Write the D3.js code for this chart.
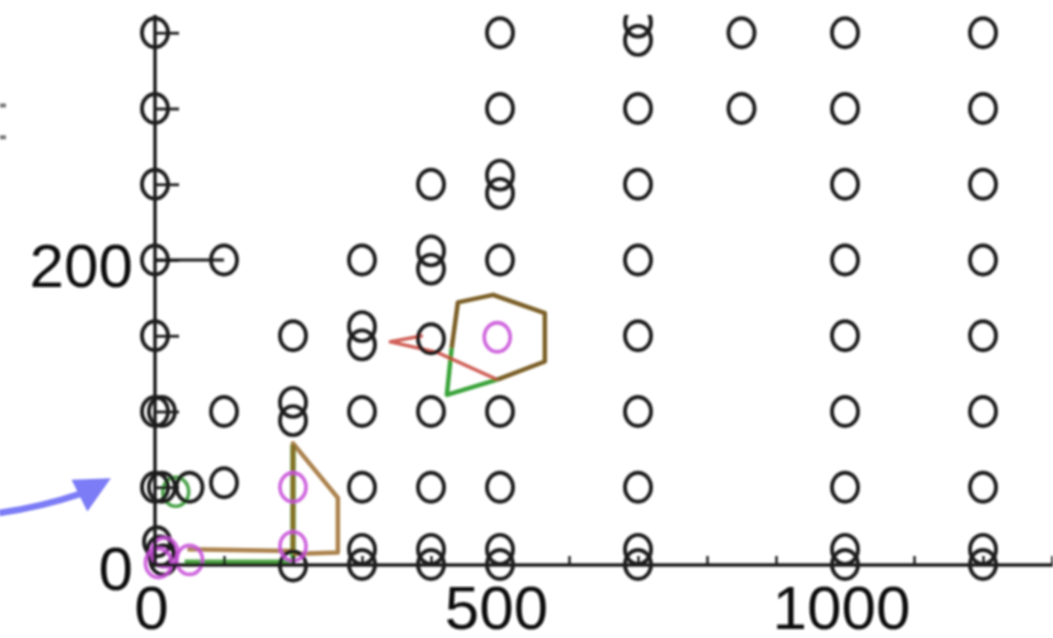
<!DOCTYPE html>
<html>
<head>
<meta charset="utf-8">
<script src="https://cdn.jsdelivr.net/npm/d3@7"></script>
<style>
  body { margin: 0; background: #fff; }
  svg { display: block; }
</style>
</head>
<body>
<script>
var width = 1053, height = 638;

// tick values
var xTickLabels = [0, 500, 1000];
var yTickLabels = [0, 200];
var xMinorTicks = [100, 200, 300, 400, 600, 700, 800, 900, 1100, 1200, 1300];
var yMinorTicks = [50, 100, 150, 200, 250, 300, 350];
var sideTicks = [302, 281];

// black circle markers [x, y]
var blackPoints = [
  [0, 350], [500, 350], [700, 357], [700, 345], [850, 350], [1000, 350], [1200, 350],
  [0, 300], [500, 300], [700, 300], [850, 300], [1000, 300], [1200, 300],
  [0, 250], [400, 250], [500, 256], [500, 244], [700, 250], [1000, 250], [1200, 250],
  [0, 200], [100, 200], [300, 200], [400, 206], [400, 194], [500, 200], [700, 200], [1000, 200], [1200, 200],
  [0, 150], [200, 150], [300, 156], [300, 144], [400, 148], [700, 150], [1000, 150], [1200, 150],
  [0, 100], [10, 100], [100, 100], [200, 106], [200, 94], [300, 100], [400, 100], [500, 100], [700, 100], [1000, 100], [1200, 100],
  [0, 50], [10, 50], [50, 50], [100, 53], [300, 50], [400, 50], [500, 50], [700, 50], [1000, 50], [1200, 50],
  [200, -2], [300, 9], [300, -1], [400, 9], [400, -1], [500, 9], [500, -1],
  [700, 9], [700, -1], [1000, 9], [1000, -1], [1200, 9], [1200, -1],
  [3, 14], [8, 8], [12, 2]
];
var magentaPoints = [[496, 149], [200, 50], [200, 11], [14, 7], [50, 2], [5, 0]];
var greenPoints = [[30, 47]];

// line series
var greenLine1 = [[43, 0.5], [200, 0.5], [200, 78]];
var greenLine2 = [[430, 142], [423, 111], [496, 121]];
var redLine = [[388, 150], [341, 146], [409, 139], [496, 121]];
var brownLine1 = [[430, 142], [439, 172], [490, 177], [565, 165], [565, 133], [496, 121]];
var brownLine2 = [[47, 9], [200, 8], [200, 79], [265, 43], [265, 7], [200, 6]];
var axisJoin = [[0, 200], [100, 200]];

// annotation arrow, in data units
var arrowShaft = [[-226, 33], [-165, 37], [-106, 46]];
var arrowHead = [[-64, 56], [-121, 55], [-98, 34]];

var x = d3.scaleLinear().domain([0, 1000]).range([155, 845]);
var y = d3.scaleLinear().domain([0, 200]).range([563, 260]);

var svg = d3.select("body").append("svg")
  .attr("width", width)
  .attr("height", height);

var defs = svg.append("defs");
defs.append("clipPath").attr("id", "plotclip")
  .append("rect").attr("x", 0).attr("y", 15).attr("width", width).attr("height", height - 15);
defs.append("filter").attr("id", "soft")
  .append("feGaussianBlur").attr("stdDeviation", 0.8);

var root = svg.append("g").attr("filter", "url(#soft)");
var plot = root.append("g").attr("clip-path", "url(#plotclip)");

var line = d3.line().x(function(d) { return x(d[0]); }).y(function(d) { return y(d[1]); });

function addLine(data, color, w, op) {
  plot.append("path")
    .attr("d", line(data))
    .attr("fill", "none")
    .attr("stroke", color)
    .attr("stroke-width", w)
    .attr("stroke-linejoin", "round")
    .attr("opacity", op);
}

function addCircles(data, color, w, op) {
  plot.append("g").selectAll("ellipse")
    .data(data)
    .enter().append("ellipse")
    .attr("cx", function(d) { return x(d[0]); })
    .attr("cy", function(d) { return y(d[1]); })
    .attr("rx", 13)
    .attr("ry", 14.5)
    .attr("fill", "none")
    .attr("stroke", color)
    .attr("stroke-width", w)
    .attr("opacity", op);
}

addLine(greenLine1, "#3a9a30", 5.5, 0.9);
addLine(greenLine2, "#2f9e2f", 4.5, 0.95);
addLine(redLine, "#c8453c", 3.5, 0.85);
addLine(brownLine1, "#75561a", 4.5, 0.95);
addLine(brownLine2, "#96621f", 4.5, 0.8);
addLine(axisJoin, "#1a1a1a", 3, 1);

addCircles(greenPoints, "#3a9a3a", 3.6, 0.9);
addCircles(blackPoints, "#1c1c1c", 3.9, 1);
addCircles(magentaPoints, "#c84fd8", 3.8, 0.85);

// axes
var xAxisG = plot.append("g").attr("transform", "translate(0," + 565 + ")")
  .call(d3.axisBottom(x).tickValues(xMinorTicks).tickSizeInner(-9).tickSizeOuter(0).tickFormat(""));
xAxisG.select(".domain").remove();
xAxisG.selectAll("line").attr("stroke", "#1a1a1a").attr("stroke-width", 2.5);

var yAxisG = plot.append("g").attr("transform", "translate(155,0)")
  .call(d3.axisLeft(y).tickValues(yMinorTicks).tickSizeInner(-24).tickSizeOuter(0).tickFormat(""));
yAxisG.select(".domain").remove();
yAxisG.selectAll("line").attr("stroke", "#1a1a1a").attr("stroke-width", 2.8);

plot.append("line")
  .attr("x1", x(-7)).attr("x2", x(1320))
  .attr("y1", 565).attr("y2", 565)
  .attr("stroke", "#1a1a1a").attr("stroke-width", 3.5);
plot.append("line")
  .attr("x1", 155).attr("x2", 155)
  .attr("y1", y(370)).attr("y2", 566)
  .attr("stroke", "#1a1a1a").attr("stroke-width", 3.5);

// tick labels
var xLab = root.append("g").attr("transform", "translate(0," + 565 + ")")
  .call(d3.axisBottom(x).tickValues(xTickLabels).tickSize(0).tickPadding(20).tickFormat(d3.format("d")));
xLab.select(".domain").remove();
xLab.selectAll("text")
  .attr("dx", -4)
  .style("font-family", "'Liberation Sans', Arial, sans-serif")
  .style("font-size", "62px")
  .attr("fill", "#111");

var yLab = root.append("g").attr("transform", "translate(155,0)")
  .call(d3.axisLeft(y).tickValues(yTickLabels).tickSize(0).tickPadding(22).tickFormat(d3.format("d")));
yLab.select(".domain").remove();
yLab.selectAll("text")
  .attr("dy", "0.42em")
  .style("font-family", "'Liberation Sans', Arial, sans-serif")
  .style("font-size", "62px")
  .attr("fill", "#111");

// cut-off ticks of the neighbouring panel
root.append("g").selectAll("line")
  .data(sideTicks)
  .enter().append("line")
  .attr("x1", 0).attr("x2", 6)
  .attr("y1", function(d) { return y(d); })
  .attr("y2", function(d) { return y(d); })
  .attr("stroke", "#777").attr("stroke-width", 4);

// blue arrow
root.append("path")
  .attr("d", "M" + x(arrowShaft[0][0]) + "," + y(arrowShaft[0][1]) +
    "Q" + x(arrowShaft[1][0]) + "," + y(arrowShaft[1][1]) +
    " " + x(arrowShaft[2][0]) + "," + y(arrowShaft[2][1]))
  .attr("fill", "none")
  .attr("stroke", "#7b7bf6")
  .attr("stroke-width", 6.5);
root.append("path")
  .attr("d", line(arrowHead) + "Z")
  .attr("fill", "#7b7bf6");
</script>
</body>
</html>
